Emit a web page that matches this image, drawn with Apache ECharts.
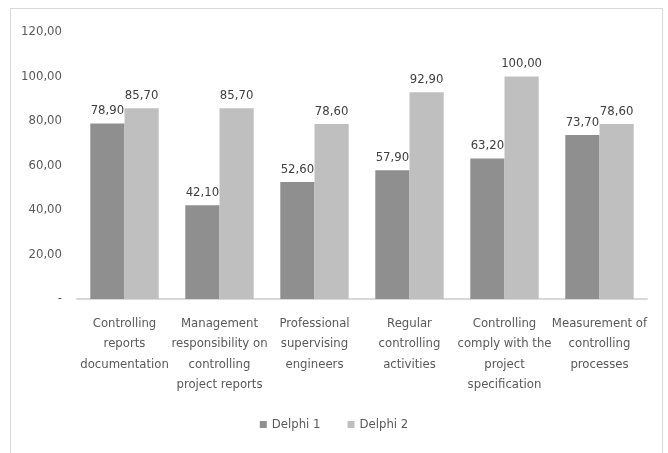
<!DOCTYPE html>
<html>
<head>
<meta charset="utf-8">
<script src="https://cdn.jsdelivr.net/npm/echarts@6/dist/echarts.min.js"></script>
<style>
  html, body { margin: 0; padding: 0; background: #fff; }
  #frame { position: absolute; left: 10px; top: 8px; width: 653px; height: 450px; border: 1px solid #d9d9d9; box-sizing: border-box; }
  #chart { position: absolute; left: 0; top: 0; width: 668px; height: 453px; }
</style>
</head>
<body>
<div id="frame"></div>
<div id="chart"></div>
<script>
// ── Chart data ────────────────────────────────────────────────────────────────
var categories = [
  'Controlling\nreports\ndocumentation',
  'Management\nresponsibility on\ncontrolling\nproject reports',
  'Professional\nsupervising\nengineers',
  'Regular\ncontrolling\nactivities',
  'Controlling\ncomply with the\nproject\nspecification',
  'Measurement of\ncontrolling\nprocesses'
];
var delphi1 = [78.9, 42.1, 52.6, 57.9, 63.2, 73.7];
var delphi2 = [85.7, 85.7, 78.6, 92.9, 100.0, 78.6];
var seriesNames = ['Delphi 1', 'Delphi 2'];

var FONT = "'Liberation Sans Narrow', 'DejaVu Sans Condensed', sans-serif";
var fmt = function(v) { return v === 0 ? '-' : v.toFixed(2).replace('.', ','); };

var chart = echarts.init(document.getElementById('chart'), null, { renderer: 'canvas' });
chart.setOption({
  animation: false,
  textStyle: { fontFamily: FONT },
  grid: { left: 77, right: 21, top: 32, bottom: 154, containLabel: false },
  legend: {
    bottom: 17, left: 'center',
    itemWidth: 7, itemHeight: 7, itemGap: 27, itemStyle: { borderWidth: 0 },
    icon: 'rect',
    textStyle: { fontFamily: FONT, fontSize: 13, color: '#595959' },
    data: seriesNames
  },
  xAxis: {
    type: 'category',
    data: categories,
    axisLine: { lineStyle: { color: '#d9d9d9', width: 2 } },
    axisTick: { show: false },
    axisLabel: { interval: 0, color: '#595959', fontSize: 13, lineHeight: 20.5, margin: 14, fontFamily: FONT }
  },
  yAxis: {
    type: 'value', min: 0, max: 120, interval: 20,
    axisLine: { show: false }, axisTick: { show: false },
    splitLine: { show: false },
    axisLabel: { color: '#595959', fontSize: 13, margin: 15, fontFamily: FONT, formatter: fmt }
  },
  series: [
    {
      name: seriesNames[0], type: 'bar', data: delphi1,
      barGap: '0%', barCategoryGap: '28%',
      itemStyle: { color: '#8f8f8f' },
      label: { show: true, position: 'top', distance: 6, color: '#404040', fontSize: 13, fontFamily: FONT, formatter: function(p) { return fmt(p.value); } }
    },
    {
      name: seriesNames[1], type: 'bar', data: delphi2,
      itemStyle: { color: '#bfbfbf' },
      label: { show: true, position: 'top', distance: 6, color: '#404040', fontSize: 13, fontFamily: FONT, formatter: function(p) { return fmt(p.value); } }
    }
  ]
});
</script>
</body>
</html>
